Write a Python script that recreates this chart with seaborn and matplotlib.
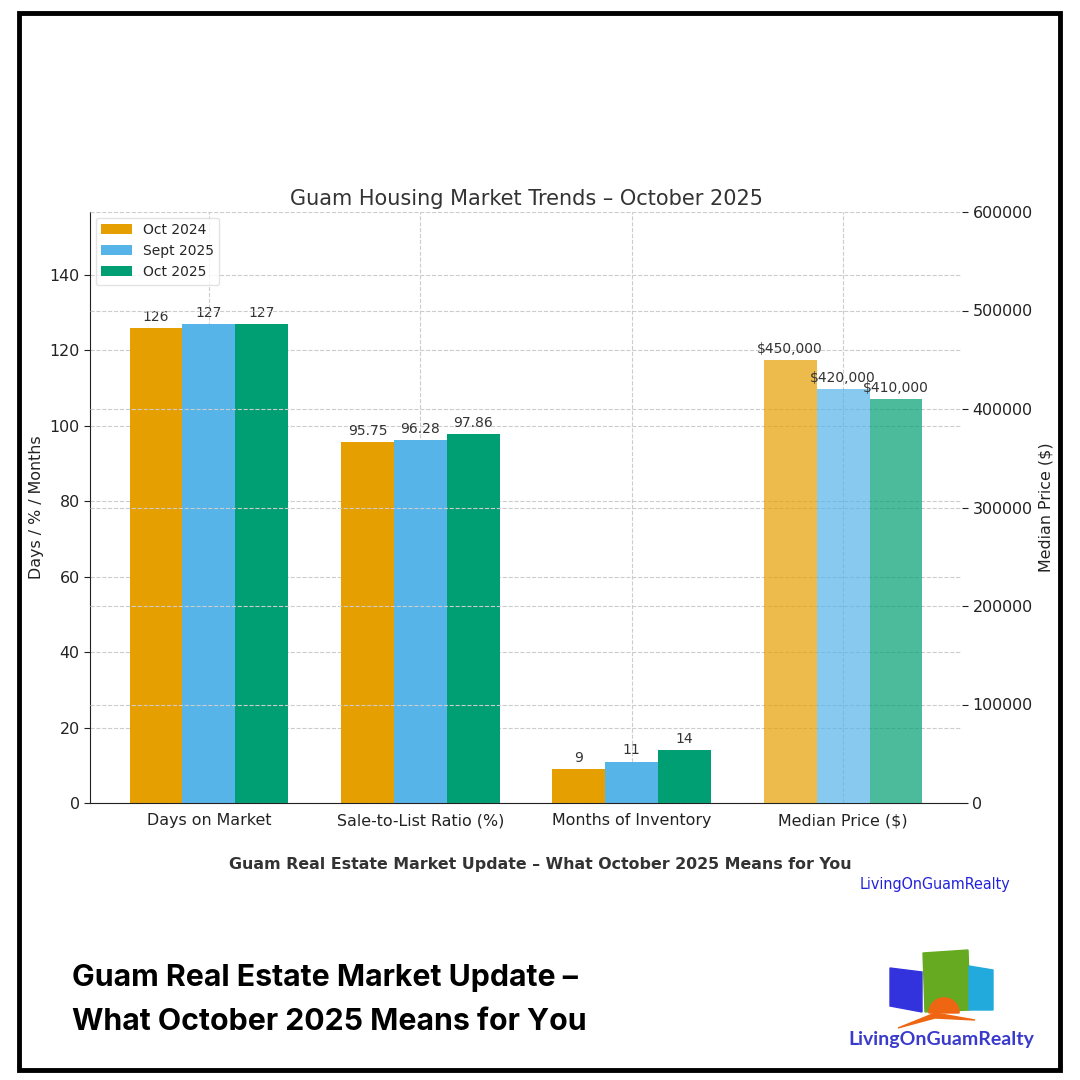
import numpy as np
import pandas as pd
import matplotlib
matplotlib.use("Agg")
import matplotlib.pyplot as plt
import seaborn as sns
from matplotlib.patches import Rectangle, Polygon, Wedge

# ---- data ----
categories = ["Days on Market", "Sale-to-List Ratio (%)", "Months of Inventory", "Median Price ($)"]
periods = ["Oct 2024", "Sept 2025", "Oct 2025"]
oct_2024 = [126, 95.75, 9]
sept_2025 = [127, 96.28, 11]
oct_2025 = [127, 97.86, 14]
median_price = [450000, 420000, 410000]
colors = ["#E69F00", "#56B4E9", "#009E73"]

sns.set_style("white")
plt.rcParams["font.family"] = ["DejaVu Sans"]

rows = []
for p, vals in zip(periods, [oct_2024, sept_2025, oct_2025]):
    for c, v in zip(categories[:3], vals):
        rows.append({"Metric": c, "Period": p, "Value": v})
df_left = pd.DataFrame(rows)
df_right = pd.DataFrame({"Metric": [categories[3]] * 3, "Period": periods, "Value": median_price})

fig = plt.figure(figsize=(10.8, 10.8), dpi=100)
ax = fig.add_axes([90 / 1080, 1 - 803 / 1080, 872 / 1080, 591 / 1080])

sns.barplot(data=df_left, x="Metric", y="Value", hue="Period", order=categories,
            hue_order=periods, palette=colors, width=0.75, gap=0, ax=ax,
            saturation=1, errorbar=None, linewidth=0)
ax2 = ax.twinx()
sns.barplot(data=df_right, x="Metric", y="Value", hue="Period", order=categories,
            hue_order=periods, palette=colors, width=0.75, gap=0, ax=ax2,
            saturation=1, errorbar=None, alpha=0.7, legend=False, linewidth=0)

ax.set_xlim(-0.5625, 3.5625)
ax.set_ylim(0, 156.7)
ax2.set_ylim(0, 600000)
ax2.set_yticks(np.arange(0, 600001, 100000))
ax.set_yticks(np.arange(0, 141, 20))

for cont in ax.containers:
    ax.bar_label(cont, labels=[f"{v:g}" for v in cont.datavalues], padding=3,
                 fontsize=10, color="#333333")
for cont in ax2.containers:
    ax2.bar_label(cont, labels=[f"${v:,.0f}" for v in cont.datavalues], padding=3,
                  fontsize=10, color="#333333")

ax.grid(True, linestyle="--", color="#cccccc", linewidth=0.8)
ax2.grid(True, axis="y", linestyle="--", color="#cccccc", linewidth=0.8)
ax.set_axisbelow(True)
ax2.set_axisbelow(True)

for s in ["top", "right"]:
    ax.spines[s].set_visible(False)
for s in ["top", "right", "left", "bottom"]:
    ax2.spines[s].set_visible(False)
ax.spines["left"].set_color("#222222")
ax.spines["bottom"].set_color("#222222")

ax.set_xlabel("")
ax.set_ylabel("Days / % / Months", fontsize=11.4, color="#222222")
ax2.set_ylabel("Median Price ($)", fontsize=11.4, color="#222222")
ax.tick_params(axis="both", labelsize=11.4, colors="#222222", length=4)
ax2.tick_params(axis="y", labelsize=11.4, colors="#222222", length=4)
ax.set_title("Guam Housing Market Trends – October 2025", fontsize=15, color="#333333", pad=5)

leg = ax.legend(loc="upper left", fontsize=10, frameon=True, borderaxespad=0.4,
                handlelength=2.2, title=None)
leg.get_frame().set_edgecolor("#dddddd")

# texts below chart
fig.text(0.5, 1 - 864 / 1080, "Guam Real Estate Market Update – What October 2025 Means for You",
         ha="center", va="center", fontsize=11.4, fontweight="bold", color="#333333")
fig.text(1010 / 1080, 1 - 885 / 1080, "LivingOnGuamRealty", ha="right", va="center",
         fontsize=11.5, color="#2222dd", fontstretch="condensed")

fig.text(72 / 1080, 1 - 986 / 1080, "Guam Real Estate Market Update –", ha="left",
         va="baseline", fontsize=21.8, fontweight="bold", family=["Inter", "DejaVu Sans"], color="black")
fig.text(72 / 1080, 1 - 1030 / 1080, "What October 2025 Means for You", ha="left",
         va="baseline", fontsize=21.8, fontweight="bold", family=["Inter", "DejaVu Sans"], color="black")

# logo
def fx(x):
    return x / 1080
def fy(y):
    return 1 - y / 1080

fig.patches.append(Polygon([(fx(890), fy(968)), (fx(922), fy(972)), (fx(922), fy(1012)), (fx(890), fy(1006))],
                           closed=True, color="#3333dd", transform=fig.transFigure))
fig.patches.append(Polygon([(fx(923), fy(953)), (fx(968), fy(950)), (fx(970), fy(1010)), (fx(925), fy(1012))],
                           closed=True, color="#66aa22", transform=fig.transFigure))
fig.patches.append(Polygon([(fx(969), fy(966)), (fx(993), fy(970)), (fx(993), fy(1010)), (fx(969), fy(1010))],
                           closed=True, color="#22aadd", transform=fig.transFigure))
fig.patches.append(Wedge((fx(944), fy(1013)), 0.014, 0, 180, color="#ee6611", transform=fig.transFigure))
fig.patches.append(Polygon([(fx(898), fy(1028)), (fx(935), fy(1013)), (fx(975), fy(1020)), (fx(935), fy(1018))],
                           closed=True, color="#ee6611", transform=fig.transFigure))
fig.text(fx(941), fy(1040), "LivingOnGuamRealty", ha="center", va="center", fontsize=14,
         fontweight="bold", color="#3a3acc", family=["Lato", "DejaVu Sans"])

# frame
fig.patches.append(Rectangle((fx(19), fy(1070)), fx(1041), 1057 / 1080, fill=False,
                             edgecolor="black", linewidth=3.5, transform=fig.transFigure))

fig.savefig("out.png", dpi=100, facecolor="white")
